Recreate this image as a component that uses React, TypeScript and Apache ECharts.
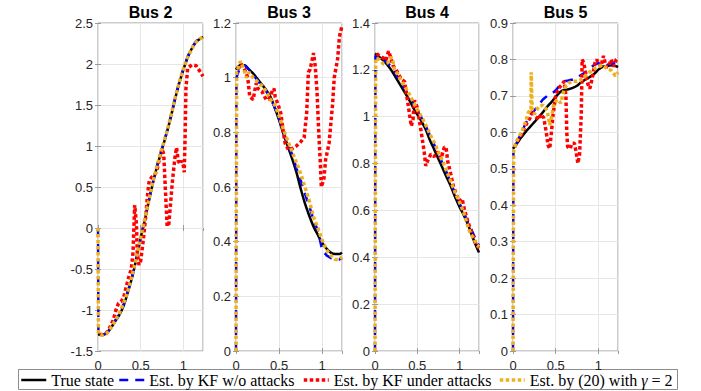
import React, { useEffect, useRef } from "react";
import * as echarts from "echarts";

// ---------- data ----------
const BUS_TITLES = ["Bus 2", "Bus 3", "Bus 4", "Bus 5"];
const LEGEND_NAMES = [
  "True state",
  "Est. by KF w/o attacks",
  "Est. by KF under attacks",
  "Est. by (20) with γ = 2",
];
const Y_MIN = [-1.5, 0, 0, 0];
const Y_MAX = [2.5, 1.2, 1.4, 0.9];
const Y_STEP = [0.5, 0.2, 0.2, 0.1];
const X_MAX = 1.23;

// time grid of the true state
const T = [0, 0.05, 0.1, 0.15, 0.2, 0.25, 0.3, 0.35, 0.4, 0.45, 0.5, 0.55, 0.6, 0.65, 0.7, 0.75, 0.8, 0.85, 0.9, 0.95, 1.0, 1.05, 1.1, 1.15, 1.2, 1.23];
// time grid of KF w/o attacks (and proposed estimate on Bus 2)
const T_EST = [0, 0.005, 0.05, 0.1, 0.15, 0.2, 0.25, 0.3, 0.35, 0.4, 0.45, 0.5, 0.55, 0.6, 0.65, 0.7, 0.75, 0.8, 0.85, 0.9, 0.95, 1.0, 1.05, 1.1, 1.15, 1.2, 1.23];

// true state
const trueBus2 = [-1.3, -1.3, -1.28, -1.22, -1.14, -1.06, -0.95, -0.78, -0.6, -0.37, -0.12, 0.1, 0.35, 0.58, 0.78, 0.96, 1.14, 1.34, 1.56, 1.76, 1.93, 2.08, 2.19, 2.27, 2.31, 2.33];
const trueBus3 = [1.03, 1.045, 1.045, 1.03, 1.015, 0.995, 0.975, 0.955, 0.93, 0.89, 0.845, 0.795, 0.75, 0.705, 0.655, 0.595, 0.54, 0.495, 0.455, 0.425, 0.395, 0.375, 0.36, 0.355, 0.355, 0.36];
const trueBus4 = [1.27, 1.255, 1.24, 1.22, 1.195, 1.165, 1.135, 1.105, 1.075, 1.04, 1.01, 0.98, 0.945, 0.9, 0.86, 0.82, 0.78, 0.74, 0.7, 0.655, 0.615, 0.58, 0.54, 0.49, 0.445, 0.42];
const trueBus5 = [0.555, 0.571, 0.587, 0.602, 0.615, 0.628, 0.641, 0.655, 0.67, 0.683, 0.697, 0.71, 0.716, 0.718, 0.722, 0.728, 0.738, 0.745, 0.752, 0.76, 0.772, 0.78, 0.782, 0.784, 0.782, 0.779];

// KF without attacks (on T_EST)
const kfBus2 = [0, -1.3, -1.3, -1.29, -1.22, -1.13, -1.04, -0.93, -0.77, -0.59, -0.36, -0.12, 0.11, 0.36, 0.59, 0.79, 0.97, 1.15, 1.35, 1.57, 1.77, 1.94, 2.09, 2.2, 2.28, 2.32, 2.33];
const kfBus3 = [0, 1.0, 1.04, 1.045, 1.03, 1.01, 0.99, 0.97, 0.95, 0.925, 0.89, 0.85, 0.8, 0.76, 0.72, 0.67, 0.625, 0.575, 0.53, 0.48, 0.44, 0.37, 0.35, 0.34, 0.335, 0.335, 0.34];
const kfBus4 = [0, 1.26, 1.255, 1.245, 1.23, 1.21, 1.18, 1.15, 1.12, 1.09, 1.06, 1.025, 0.995, 0.96, 0.92, 0.88, 0.84, 0.8, 0.76, 0.715, 0.67, 0.63, 0.59, 0.55, 0.51, 0.47, 0.45];
const kfBus5 = [0, 0.55, 0.575, 0.6, 0.625, 0.645, 0.66, 0.675, 0.69, 0.7, 0.705, 0.715, 0.73, 0.74, 0.742, 0.745, 0.75, 0.758, 0.765, 0.775, 0.785, 0.79, 0.785, 0.785, 0.788, 0.79, 0.785];

// KF under attacks
const tAtkBus2 = [0.02, 0.05, 0.1, 0.14, 0.18, 0.21, 0.24, 0.27, 0.3, 0.33, 0.36, 0.39, 0.41, 0.43, 0.45, 0.46, 0.48, 0.5, 0.53, 0.56, 0.58, 0.6, 0.63, 0.66, 0.69, 0.72, 0.75, 0.77, 0.79, 0.81, 0.83, 0.85, 0.87, 0.9, 0.92, 0.94, 0.96, 0.98, 1.0, 1.01, 1.02, 1.03, 1.05, 1.1, 1.15, 1.2, 1.23];
const atkBus2 = [-1.3, -1.3, -1.28, -1.21, -1.12, -1.0, -0.92, -0.9, -0.85, -0.72, -0.6, -0.5, -0.3, 0.28, 0.05, -0.3, -0.45, -0.4, -0.15, 0.15, 0.4, 0.58, 0.62, 0.64, 0.7, 0.85, 0.97, 0.9, 0.45, 0.02, 0.05, 0.3, 0.55, 0.85, 0.98, 0.82, 0.78, 0.82, 0.76, 0.68, 1.1, 1.7, 1.95, 1.99, 1.98, 1.9, 1.85];
const tAtkBus3 = [0.02, 0.06, 0.1, 0.136, 0.16, 0.2, 0.216, 0.236, 0.255, 0.3, 0.35, 0.38, 0.42, 0.44, 0.455, 0.49, 0.52, 0.55, 0.57, 0.61, 0.65, 0.7, 0.75, 0.79, 0.82, 0.84, 0.86, 0.88, 0.9, 0.92, 0.94, 0.96, 0.98, 0.99, 1.02, 1.04, 1.08, 1.12, 1.14, 1.18, 1.2, 1.23];
const atkBus3 = [1.03, 1.05, 1.03, 1.0, 0.93, 0.92, 0.95, 0.98, 0.96, 0.95, 0.92, 0.92, 0.95, 0.96, 0.93, 0.9, 0.87, 0.8, 0.76, 0.735, 0.74, 0.75, 0.765, 0.78, 0.87, 1.02, 1.03, 1.06, 1.09, 1.04, 0.95, 0.8, 0.68, 0.6, 0.63, 0.7, 0.76, 0.9, 1.0, 1.07, 1.15, 1.19];
const tAtkBus4 = [0.02, 0.05, 0.1, 0.13, 0.16, 0.18, 0.21, 0.25, 0.31, 0.35, 0.38, 0.41, 0.43, 0.45, 0.467, 0.5, 0.54, 0.58, 0.6, 0.62, 0.66, 0.7, 0.74, 0.78, 0.82, 0.84, 0.86, 0.88, 0.93, 0.97, 1.0, 1.03, 1.06, 1.1, 1.15, 1.2, 1.23];
const atkBus4 = [1.27, 1.26, 1.25, 1.24, 1.28, 1.26, 1.22, 1.2, 1.16, 1.15, 1.08, 1.005, 0.96, 0.99, 1.07, 1.04, 0.95, 0.855, 0.79, 0.81, 0.84, 0.83, 0.85, 0.82, 0.87, 0.87, 0.81, 0.78, 0.7, 0.66, 0.64, 0.65, 0.6, 0.55, 0.5, 0.45, 0.44];
const tAtkBus5 = [0.02, 0.05, 0.1, 0.15, 0.2, 0.23, 0.25, 0.28, 0.3, 0.33, 0.36, 0.39, 0.41, 0.43, 0.45, 0.47, 0.5, 0.53, 0.57, 0.6, 0.62, 0.63, 0.64, 0.67, 0.69, 0.72, 0.74, 0.76, 0.78, 0.8, 0.81, 0.83, 0.86, 0.88, 0.9, 0.93, 0.96, 0.98, 1.0, 1.03, 1.06, 1.09, 1.12, 1.15, 1.18, 1.21, 1.23];
const atkBus5 = [0.56, 0.575, 0.595, 0.62, 0.64, 0.66, 0.645, 0.64, 0.635, 0.65, 0.64, 0.6, 0.565, 0.555, 0.6, 0.65, 0.7, 0.72, 0.73, 0.74, 0.7, 0.6, 0.56, 0.555, 0.57, 0.57, 0.545, 0.515, 0.54, 0.65, 0.8, 0.79, 0.75, 0.73, 0.72, 0.75, 0.79, 0.8, 0.79, 0.78, 0.81, 0.78, 0.78, 0.8, 0.78, 0.8, 0.805];

// proposed estimator (20) with gamma = 2
const tPropBus2 = T_EST;
const propBus2 = [0, -1.29, -1.31, -1.29, -1.22, -1.13, -1.04, -0.92, -0.77, -0.58, -0.36, -0.11, 0.12, 0.36, 0.59, 0.79, 0.97, 1.15, 1.35, 1.57, 1.77, 1.94, 2.08, 2.19, 2.27, 2.31, 2.33];
const tPropBus3 = [0, 0.008, 0.05, 0.08, 0.12, 0.15, 0.2, 0.25, 0.3, 0.35, 0.4, 0.45, 0.5, 0.55, 0.6, 0.65, 0.7, 0.75, 0.8, 0.85, 0.9, 0.95, 1.0, 1.05, 1.1, 1.15, 1.2, 1.23];
const propBus3 = [0, 1.02, 1.06, 1.04, 1.0, 1.02, 1.0, 0.985, 0.97, 0.95, 0.92, 0.9, 0.86, 0.81, 0.77, 0.73, 0.69, 0.65, 0.6, 0.55, 0.49, 0.45, 0.405, 0.37, 0.35, 0.335, 0.335, 0.345];
const tPropBus4 = [0, 0.008, 0.05, 0.1, 0.15, 0.19, 0.21, 0.23, 0.27, 0.3, 0.35, 0.4, 0.45, 0.5, 0.55, 0.6, 0.65, 0.7, 0.75, 0.8, 0.85, 0.9, 0.95, 1.0, 1.05, 1.1, 1.13, 1.17, 1.2, 1.23];
const propBus4 = [0, 1.25, 1.245, 1.225, 1.23, 1.255, 1.24, 1.2, 1.18, 1.16, 1.13, 1.1, 1.065, 1.03, 1.0, 0.965, 0.925, 0.89, 0.85, 0.81, 0.765, 0.72, 0.675, 0.635, 0.59, 0.53, 0.5, 0.48, 0.455, 0.445];
const tPropBus5 = [0, 0.008, 0.05, 0.1, 0.15, 0.18, 0.21, 0.213, 0.225, 0.25, 0.3, 0.35, 0.4, 0.43, 0.45, 0.48, 0.52, 0.56, 0.6, 0.65, 0.7, 0.75, 0.8, 0.85, 0.9, 0.95, 1.0, 1.05, 1.1, 1.15, 1.2, 1.23];
const propBus5 = [0, 0.55, 0.58, 0.6, 0.63, 0.655, 0.66, 0.765, 0.66, 0.65, 0.67, 0.675, 0.66, 0.62, 0.64, 0.68, 0.69, 0.68, 0.72, 0.735, 0.74, 0.74, 0.745, 0.755, 0.765, 0.775, 0.78, 0.785, 0.775, 0.77, 0.755, 0.765];

const TRUE_DATA = [trueBus2, trueBus3, trueBus4, trueBus5];
const KF_DATA = [kfBus2, kfBus3, kfBus4, kfBus5];
const ATK_T = [tAtkBus2, tAtkBus3, tAtkBus4, tAtkBus5];
const ATK_DATA = [atkBus2, atkBus3, atkBus4, atkBus5];
const PROP_T = [tPropBus2, tPropBus3, tPropBus4, tPropBus5];
const PROP_DATA = [propBus2, propBus3, propBus4, propBus5];

// ---------- layout / style ----------
const GRID_LEFT = [98, 236, 375, 513];
const GRID_WIDTH = [105, 106, 104, 105];
const GRID_TOP = 23;
const GRID_HEIGHT = 328;
const LEGEND_X = [20, 118, 302, 498];
const AXIS_COLOR = "#9a9a9a";
const SPLIT_COLOR = "#e6e6e6";
const LABEL_COLOR = "#262626";
const SANS = "'Liberation Sans', Arial, sans-serif";
const SERIF = "'Liberation Serif', 'Times New Roman', serif";
const ORANGE = "#edb120";

const zip = (xs: number[], ys: number[]) => xs.map((x, i) => [x, ys[i]]);

function buildOption() {
  const grid: any[] = [];
  const xAxis: any[] = [];
  const yAxis: any[] = [];
  const series: any[] = [];
  const graphic: any[] = [];

  const labelStyle = { color: LABEL_COLOR, fontSize: 13, fontFamily: SANS };
  const tick = { show: true, inside: true, length: 3, lineStyle: { color: AXIS_COLOR } };

  for (let i = 0; i < 4; i++) {
    grid.push({
      left: GRID_LEFT[i],
      top: GRID_TOP,
      width: GRID_WIDTH[i],
      height: GRID_HEIGHT,
      show: true,
      borderColor: AXIS_COLOR,
      borderWidth: 1,
      backgroundColor: "transparent",
    });
  }
  // primary axes
  for (let i = 0; i < 4; i++) {
    xAxis.push({
      gridIndex: i,
      type: "value",
      min: 0,
      max: X_MAX,
      interval: 0.5,
      axisLine: { show: false },
      axisTick: tick,
      splitLine: { show: true, lineStyle: { color: SPLIT_COLOR } },
      axisLabel: {
        ...labelStyle,
        margin: 8,
        showMaxLabel: false,
        formatter: (v: number) =>
          Math.abs(v * 2 - Math.round(v * 2)) < 1e-6 ? String(v) : "",
      },
    });
    yAxis.push({
      gridIndex: i,
      type: "value",
      min: Y_MIN[i],
      max: Y_MAX[i],
      interval: Y_STEP[i],
      axisLine: { show: false },
      axisTick: tick,
      splitLine: { show: true, lineStyle: { color: SPLIT_COLOR } },
      axisLabel: { ...labelStyle, margin: 5 },
    });
  }
  // mirrored tick axes (top / right) like MATLAB's box
  for (let i = 0; i < 4; i++) {
    xAxis.push({
      gridIndex: i,
      type: "value",
      position: "top",
      min: 0,
      max: X_MAX,
      interval: 0.5,
      axisLine: { show: false },
      axisTick: tick,
      splitLine: { show: false },
      axisLabel: { show: false },
    });
    yAxis.push({
      gridIndex: i,
      type: "value",
      position: "right",
      min: Y_MIN[i],
      max: Y_MAX[i],
      interval: Y_STEP[i],
      axisLine: { show: false },
      axisTick: tick,
      splitLine: { show: false },
      axisLabel: { show: false },
    });
  }

  for (let i = 0; i < 4; i++) {
    const common = {
      type: "line",
      xAxisIndex: i,
      yAxisIndex: i,
      symbol: "none",
      clip: false,
      emphasis: { disabled: true },
    };
    series.push({
      ...common,
      name: LEGEND_NAMES[0],
      data: zip(T, TRUE_DATA[i]),
      smooth: 0.35,
      lineStyle: { color: "#000000", width: 2.5, type: "solid" },
      itemStyle: { color: "#000000" },
    });
    series.push({
      ...common,
      name: LEGEND_NAMES[1],
      data: zip(T_EST, KF_DATA[i]),
      lineStyle: { color: "#0000ff", width: 2.5, type: [9, 7] },
      itemStyle: { color: "#0000ff" },
    });
    series.push({
      ...common,
      name: LEGEND_NAMES[2],
      data: zip(ATK_T[i], ATK_DATA[i]),
      lineStyle: { color: "#ff0000", width: 3.5, type: [3.5, 2.5] },
      itemStyle: { color: "#ff0000" },
    });
    series.push({
      ...common,
      name: LEGEND_NAMES[3],
      data: zip(PROP_T[i], PROP_DATA[i]),
      lineStyle: { color: ORANGE, width: 3.5, type: [3.5, 2.5] },
      itemStyle: { color: ORANGE },
    });

    graphic.push({
      type: "text",
      x: GRID_LEFT[i] + GRID_WIDTH[i] / 2,
      y: 12,
      style: {
        text: BUS_TITLES[i],
        fill: "#000",
        font: `bold 16px ${SANS}`,
        textAlign: "center",
        textVerticalAlign: "middle",
      },
    });
  }

  // legend frame
  graphic.push({
    type: "rect",
    z: 0,
    shape: { x: 18.5, y: 369.5, width: 659, height: 20 },
    style: { fill: "#ffffff", stroke: "#8c8c8c", lineWidth: 1 },
  });

  const legend = LEGEND_NAMES.map((n, i) => ({
    data: [n],
    left: LEGEND_X[i],
    top: 372,
    orient: "horizontal",
    itemWidth: 25,
    itemHeight: 14,
    itemGap: 0,
    padding: 0,
    selectedMode: false,
    z: 10,
    itemStyle: { opacity: 0 },
    lineStyle: { width: "inherit", opacity: 1 },
    formatter: (name: string) => name.replace("γ", "{g|γ}"),
    textStyle: {
      color: "#000",
      fontFamily: SERIF,
      fontSize: 16,
      rich: {
        g: { fontFamily: SERIF, fontSize: 16, fontStyle: "italic", color: "#000" },
      },
    },
  }));

  return {
    animation: false,
    backgroundColor: "#ffffff",
    grid,
    xAxis,
    yAxis,
    series,
    legend,
    graphic,
  };
}

export default function App() {
  const ref = useRef<HTMLDivElement>(null);
  useEffect(() => {
    if (!ref.current) return;
    const chart = echarts.init(ref.current, null, { renderer: "svg" });
    chart.setOption(buildOption() as any);
    return () => chart.dispose();
  }, []);
  return (
    <div
      ref={ref}
      style={{ position: "fixed", left: 0, top: 0, width: 701, height: 391, background: "#fff" }}
    />
  );
}
